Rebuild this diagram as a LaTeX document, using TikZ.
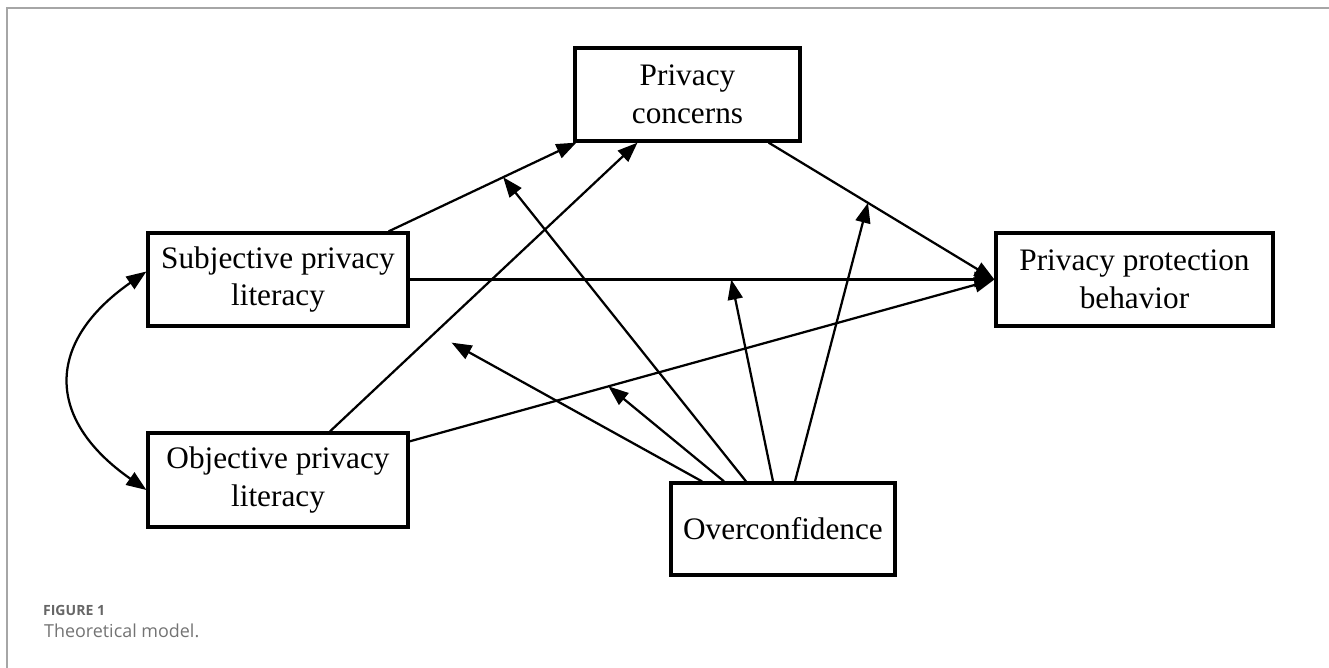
\documentclass[tikz,border=0pt]{standalone}
\usepackage{fontspec}
\setmainfont{Liberation Serif}
\newfontfamily\capfont{Open Sans}
\usetikzlibrary{arrows.meta}

\tikzset{
  box/.style={draw, line width=0.065cm, align=center, inner sep=0pt,
    font=\fontsize{17.8}{21.3}\selectfont},
}

\begin{document}
\begin{tikzpicture}[->, >={Triangle[length=0.4cm,width=0.3cm]}, x=0.02cm, y=0.02cm, line width=0.045cm]
   \useasboundingbox (0,0) rectangle (1329,-668);
   % page frame
   \draw[-, line width=0.045cm, black!35] (7,-668) -- (7,-8) -- (1329,-8);

   \node[box, minimum width=4.5cm, minimum height=1.86cm] (conc) at (687.5,-94.5) {Privacy\\concerns};
   \node[box, minimum width=5.2cm, minimum height=1.86cm] (subj) at (278,-279.5) {Subjective privacy\\literacy};
   \node[box, minimum width=5.2cm, minimum height=1.88cm] (obj) at (278,-480) {Objective privacy\\literacy};
   \node[box, minimum width=5.54cm, minimum height=1.86cm] (beh) at (1134.5,-279.5) {Privacy protection\\behavior};
   \node[box, minimum width=4.48cm, minimum height=1.84cm] (over) at (783,-529) {Overconfidence};

   % direct paths
   \draw ([xshift=-0.42cm]subj.north east) -- coordinate[pos=.61] (mc) ([xshift=0.06cm]conc.south west);
   \draw ([xshift=1.04cm]obj.north) -- coordinate[pos=.34] (ma) ([xshift=-1cm]conc.south);
   \draw ([xshift=-0.66cm]conc.south east) -- coordinate[pos=.44] (me) (beh.west);
   \draw (subj.east) -- coordinate[pos=.55] (md) (beh.west);
   \draw ([yshift=-0.2cm]obj.north east) -- coordinate[pos=.34] (mb) (beh.west);

   % correlation
   \draw[<->] ([yshift=0.16cm]subj.west) to[out=215, in=145, looseness=1.45] ([yshift=-0.2cm]obj.west);

   % moderation by overconfidence
   \draw[shorten >=0.39cm] ([xshift=-1.62cm]over.north) -- (ma);
   \draw ([xshift=-1.18cm]over.north) -- (mb);
   \draw ([xshift=-0.74cm]over.north) -- (mc);
   \draw ([xshift=-0.2cm]over.north) -- (md);
   \draw ([xshift=0.24cm]over.north) -- (me);

   % caption
   \node[anchor=base west, inner sep=0pt, text=black!60, font=\capfont\bfseries\fontsize{8}{10}\selectfont] (fig) at (42,-616) {FIGURE 1};
   \node[anchor=base west, inner sep=0pt, text=black!55, font=\capfont\fontsize{10.2}{12}\selectfont] (cap) at (43,-638) {Theoretical model.};
\end{tikzpicture}
\end{document}
